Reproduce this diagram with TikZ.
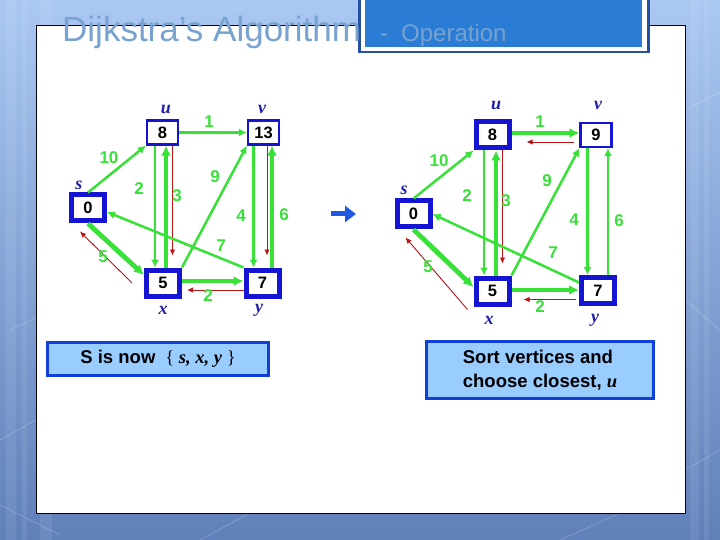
\documentclass[tikz,border=0pt]{standalone}
\usepackage{fontspec}
\setmainfont{Liberation Serif}
\setsansfont{Liberation Sans}
\usetikzlibrary{arrows.meta}
\definecolor{vertexblue}{RGB}{20,20,210}
\definecolor{labelblue}{RGB}{30,30,170}
\definecolor{edgegreen}{RGB}{55,225,55}
\definecolor{predred}{RGB}{185,20,20}
\definecolor{boxfill}{RGB}{153,204,255}
\definecolor{boxline}{RGB}{16,64,216}
\definecolor{slidetop}{RGB}{170,200,242}
\definecolor{slidebot}{RGB}{96,128,186}
\definecolor{titleblue}{RGB}{120,162,208}
\definecolor{headblue}{RGB}{42,124,212}
\definecolor{headdark}{RGB}{35,80,165}
\definecolor{arrowblue}{RGB}{30,90,225}
\tikzset{vtx/.style={rectangle,draw=vertexblue,fill=white,line width=2.2pt,minimum width=31pt,minimum height=24pt,inner sep=0pt,font=\sffamily\bfseries\fontsize{16.5}{16.5}\selectfont},
  vtxdone/.style={vtx,line width=5pt,minimum width=33pt,minimum height=26pt},
  vname/.style={text=labelblue,font=\bfseries\itshape\fontsize{18}{18}\selectfont},
  weight/.style={text=edgegreen,font=\sffamily\bfseries\fontsize{17}{17}\selectfont},
  link/.style={draw=edgegreen,line width=2.5pt,-{Latex[length=8pt,width=8pt]}},
  treelink/.style={link,line width=4.8pt,-{Latex[length=10pt,width=10pt]}},
  predlink/.style={draw=predred,line width=.9pt,-{Latex[length=6pt,width=5.5pt]}},
  infobox/.style={draw=boxline,fill=boxfill,line width=3pt,inner sep=0pt,font=\sffamily\bfseries\fontsize{18.5}{24}\selectfont},
  bigarrow/.style={draw=arrowblue,line width=5pt,-{Triangle[length=11pt,width=16pt]}}}

\begin{document}
\begin{tikzpicture}[x=1pt,y=-1pt]
  \path[use as bounding box] (0,0) rectangle (720,540);
  \shade[top color=slidetop,bottom color=slidebot] (0,0) rectangle (720,540);
  \foreach \sx/\sw in {6/10,22/5,40/12,690/9,704/5}{\fill[white,opacity=.08] (\sx,0) rectangle ++(\sw,540);}
  \foreach \ax/\ay/\bx/\by in {0/505/60/535,10/330/36/318,0/440/36/420,685/110/720/92,685/300/720/330,685/470/720/450,200/540/250/513,560/540/620/513}{
    \draw[white,opacity=.25,line width=.6pt] (\ax,\ay) -- (\bx,\by);}
  \draw[black,line width=1pt,fill=white] (36,26) rectangle (685,513);
  \fill[headdark] (358,-2) rectangle (650,53.5);
  \fill[white] (360.5,-2) rectangle (647,51);
  \fill[headblue] (365,-2) rectangle (642,47);
  \node[anchor=base west,inner sep=0pt,text=titleblue,font=\sffamily\fontsize{35}{35}\selectfont] (title) at (62,42) {Dijkstra’s Algorithm};
  \node[anchor=base west,inner sep=0pt,text=titleblue,font=\sffamily\fontsize{24}{24}\selectfont] (subtitle) at (380,42) {-\hspace{13pt}Operation};

  \node[vtx] (u1) at (162.5,132.5) {8};
  \node[vtx] (v1) at (263.5,132.5) {13};
  \node[vtxdone] (s1) at (88,208) {0};
  \node[vtxdone] (x1) at (163,283) {5};
  \node[vtxdone] (y1) at (262.5,283) {7};
  \foreach \n/\px/\py in {u/166/109,v/262/109,s/79/185,x/163/310,y/259/310}{\node[vname] (l\n1) at (\px,\py) {\n};}
  \draw[link] (s1.north) -- (u1.south west);
  \draw[link] (u1.east) -- (v1.west);
  \draw[link] ([xshift=-7.5pt]u1.south) -- ([xshift=-8pt]x1.north);
  \draw[treelink] ([xshift=3pt]x1.north) -- ([xshift=3.5pt]u1.south);
  \draw[predlink] ([xshift=10pt]u1.south) -- ([xshift=9.5pt,yshift=12pt]x1.north);
  \draw[link] (x1.north east) -- (v1.south west);
  \draw[link] ([xshift=-10pt]v1.south) -- ([xshift=-9pt]y1.north);
  \draw[treelink] ([xshift=9.5pt]y1.north) -- ([xshift=8.5pt]v1.south);
  \draw[predlink] ([xshift=3.5pt]v1.south) -- ([xshift=4.5pt,yshift=12pt]y1.north);
  \draw[link] (y1.north west) -- ([yshift=-4pt]s1.east);
  \draw[treelink] (s1.south) -- ([yshift=8pt]x1.west);
  \draw[predlink] ([xshift=-12pt]x1.west) -- ([xshift=-8pt,yshift=-8pt]s1.south);
  \draw[treelink] ([yshift=2pt]x1.east) -- ([yshift=2pt]y1.west);
  \draw[predlink] ([yshift=-7pt]y1.west) -- ([xshift=5pt,yshift=-7pt]x1.east);
  \foreach \n/\t/\px/\py in {a/10/109/158,b/1/209/122,c/2/139/189,d/3/177/196,e/9/215/177,f/4/241/216,g/6/284/215,h/7/221/246,i/5/103/257,j/2/208/296}{
    \node[weight] (w\n1) at (\px,\py) {\t};}

  \coordinate (go) at (331,214);
  \coordinate (gone) at (356,214);
  \draw[bigarrow] (go) -- (gone);

  \node[vtxdone] (u2) at (492.5,135) {8};
  \node[vtx] (v2) at (596,135) {9};
  \node[vtxdone] (s2) at (413.5,214) {0};
  \node[vtxdone] (x2) at (492.5,291) {5};
  \node[vtxdone] (y2) at (598,290.5) {7};
  \foreach \n/\px/\py in {u/496/105,v/598/105,s/404/190,x/489/320,y/595/320}{\node[vname] (l\n2) at (\px,\py) {\n};}
  \draw[link] (s2.north) -- (u2.south west);
  \draw[treelink] ([yshift=2pt]u2.east) -- ([yshift=2pt]v2.west);
  \draw[predlink] ([xshift=-5pt,yshift=-7pt]v2.west) -- ([xshift=15pt,yshift=-7pt]u2.east);
  \draw[link] ([xshift=-8.5pt]u2.south) -- ([xshift=-8.5pt]x2.north);
  \draw[treelink] ([xshift=3.5pt]x2.north) -- ([xshift=3.5pt]u2.south);
  \draw[predlink] ([xshift=10pt]u2.south) -- ([xshift=10pt,yshift=12pt]x2.north);
  \draw[link] (x2.north east) -- (v2.south west);
  \draw[link] ([xshift=-8.5pt]v2.south) -- ([xshift=-10.5pt]y2.north);
  \draw[link] ([xshift=10pt]y2.north) -- ([xshift=12pt]v2.south);
  \draw[link] ([yshift=8pt]y2.west) -- (s2.east);
  \draw[treelink] (s2.south) -- ([yshift=4pt]x2.west);
  \draw[predlink] ([xshift=-6pt,yshift=-3pt]x2.south west) -- ([xshift=-8pt,yshift=-8pt]s2.south);
  \draw[treelink] ([yshift=1pt]x2.east) -- ([yshift=.5pt]y2.west);
  \draw[predlink] ([xshift=-3pt,yshift=-9pt]y2.west) -- ([xshift=12pt,yshift=-8.5pt]x2.east);
  \foreach \n/\t/\px/\py in {a/10/439/161,b/1/540/122,c/2/467/196,d/3/506/201,e/9/547/181,f/4/574/220,g/6/619/221,h/7/553/253,i/5/428/267,j/2/540/307}{
    \node[weight] (w\n2) at (\px,\py) {\t};}

  \node[infobox,minimum width=221pt,minimum height=33pt] (setS) at (158,359) {S is now\hspace{10pt}{\rmfamily\mdseries\{ \textbf{\textit{s, x, y}} \}}};
  \node[infobox,minimum width=227pt,minimum height=57pt,align=left] (pick) at (540,370) {Sort vertices and\\choose closest, {\rmfamily\bfseries\itshape u}};
\end{tikzpicture}
\end{document}
